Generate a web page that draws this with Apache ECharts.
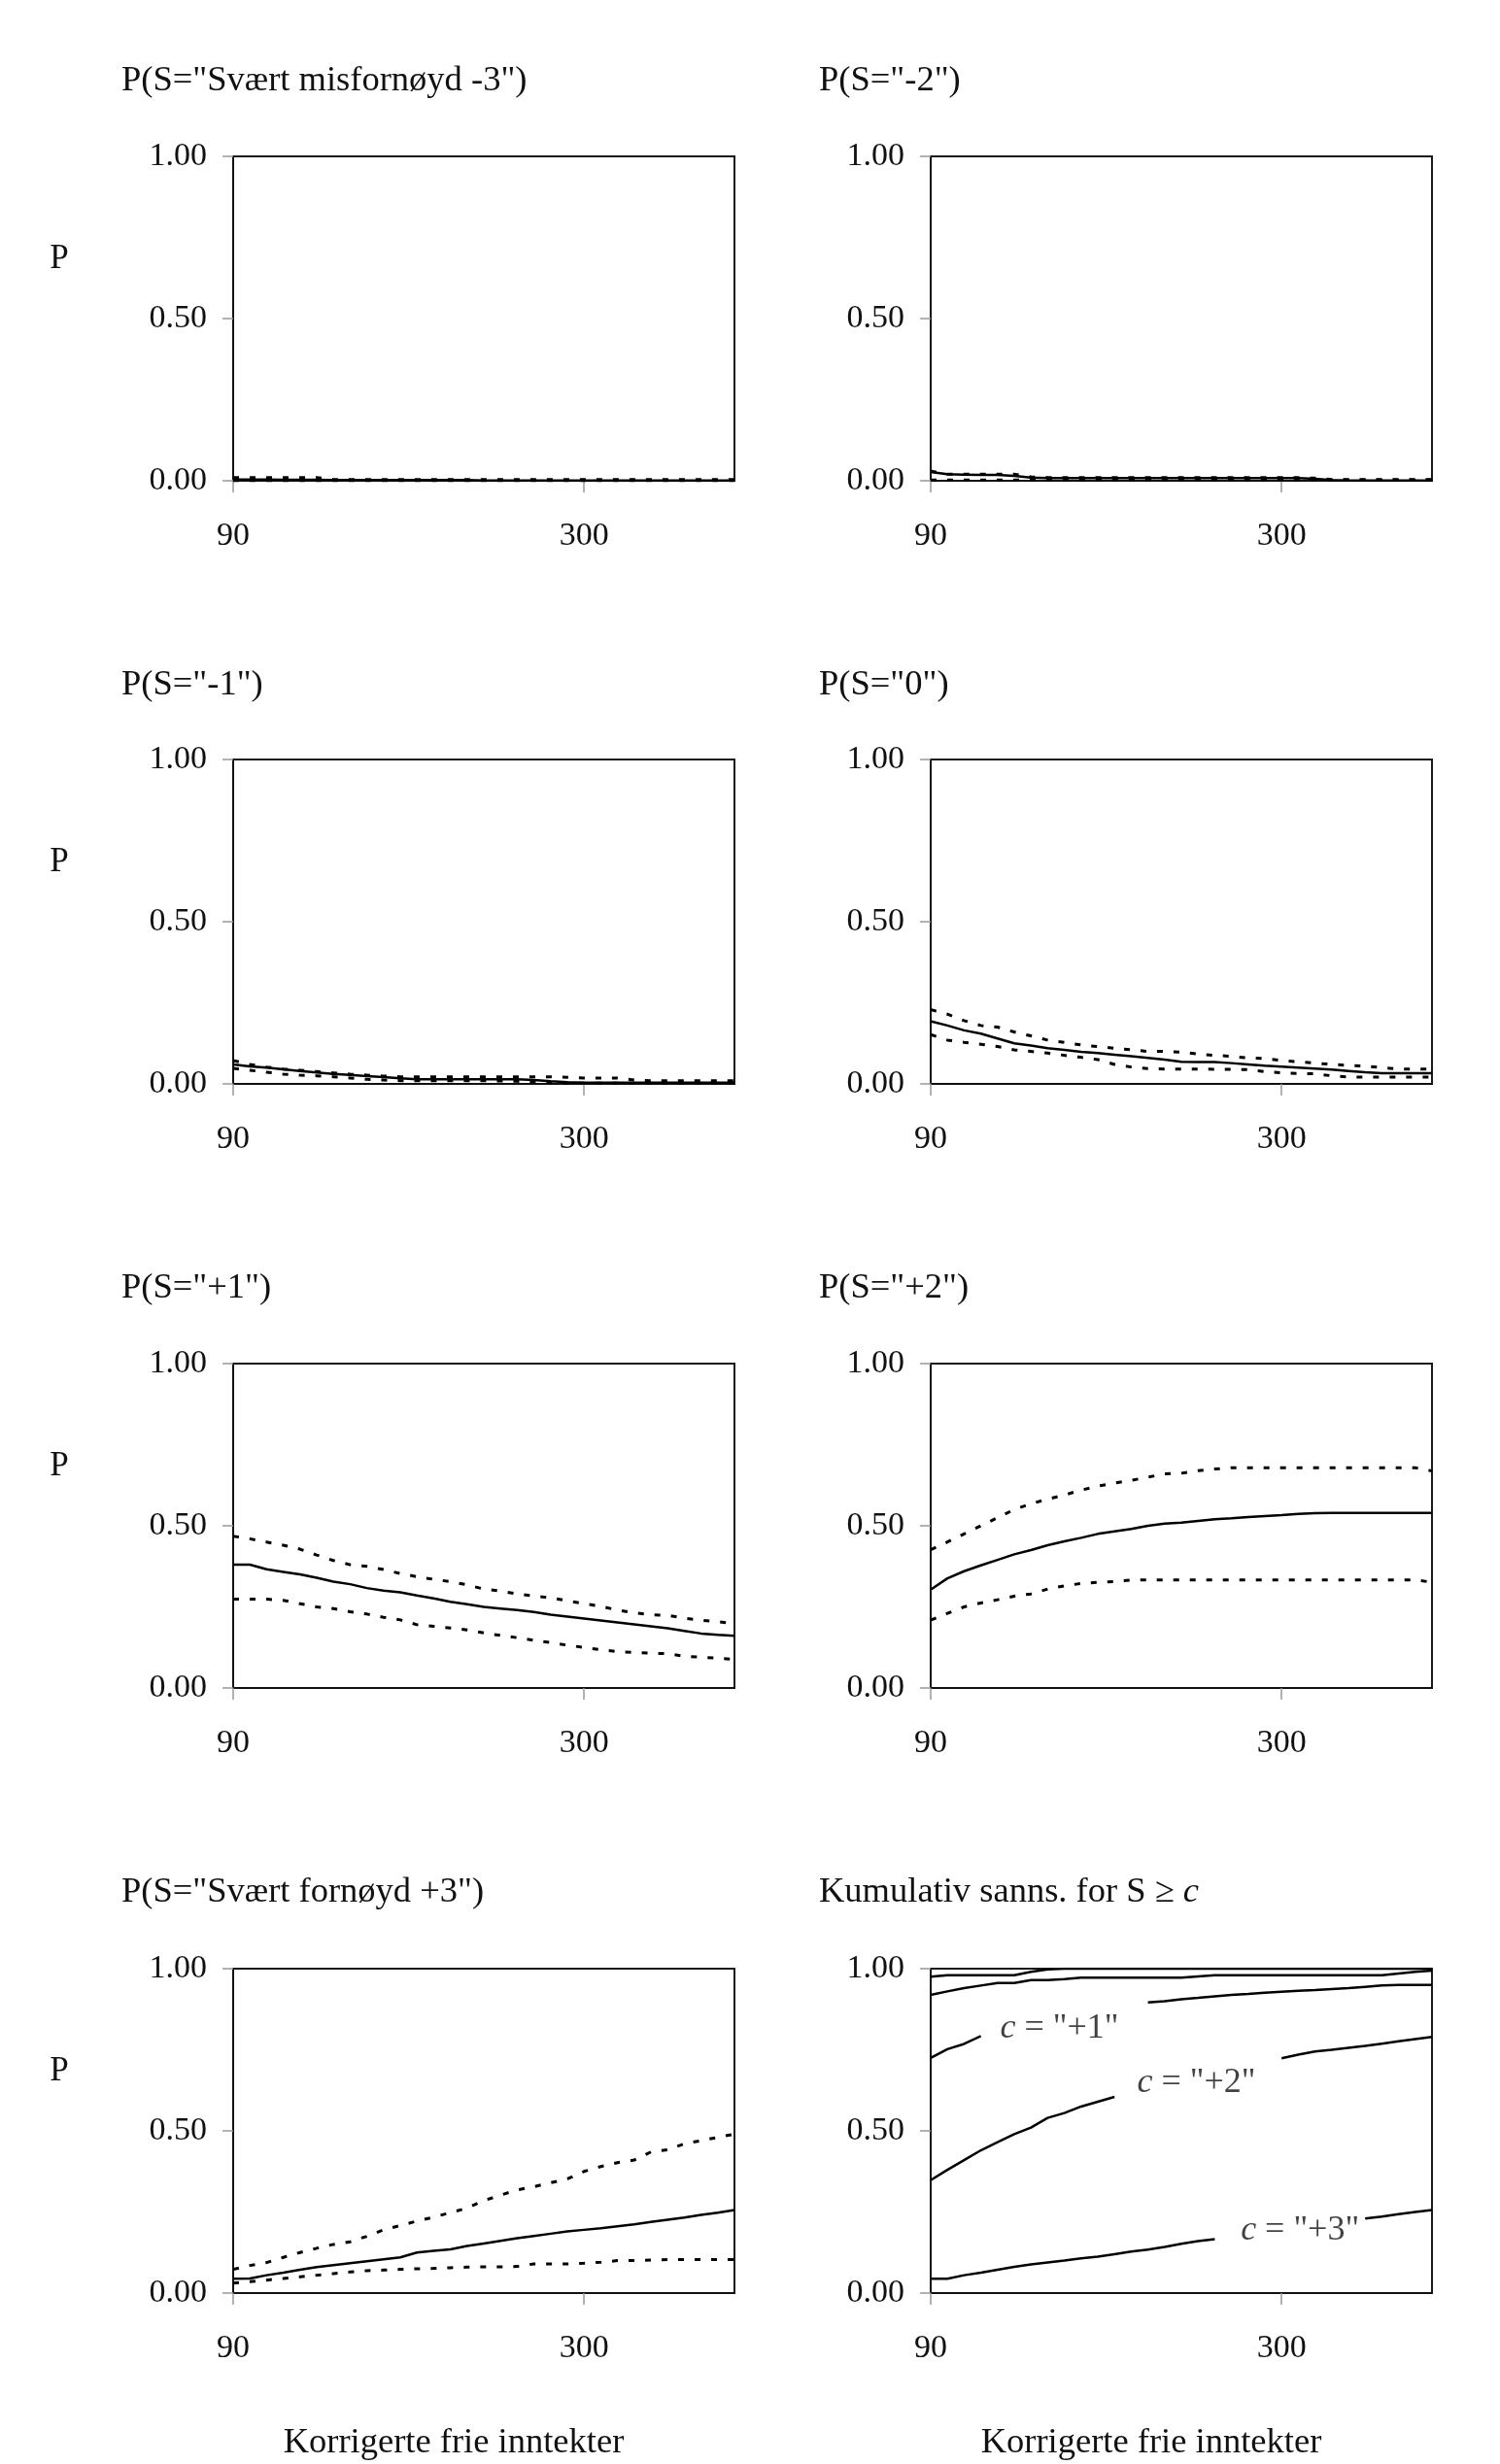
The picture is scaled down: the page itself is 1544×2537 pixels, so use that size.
<!DOCTYPE html>
<html><head><meta charset="utf-8">
<script src="https://cdn.jsdelivr.net/npm/echarts@6/dist/echarts.min.js"></script>
<style>html,body{margin:0;padding:0;background:#fff}#c{width:1544px;height:2537px}</style>
</head><body><div id="c"></div><script>
// ---------- data ----------
const incomes = [90,100,110,120,130,140,150,160,170,180,190,200,210,220,230,240,250,260,270,280,290,300,310,320,330,340,350,360,370,380,390];
const xTickValues = [90, 300];
const yTickValues = [0, 0.5, 1];
const panelTitles = ['P(S="Svært misfornøyd -3")', 'P(S="-2")', 'P(S="-1")', 'P(S="0")', 'P(S="+1")', 'P(S="+2")', 'P(S="Svært fornøyd +3")'];
const xAxisTitle = 'Korrigerte frie inntekter';
const yAxisTitle = 'P';

// P(S=-3)
const m3Est = [0.004,0.004,0.004,0.003,0.003,0.003,0.002,0.002,0.002,0.002,0.002,0.002,0.002,0.002,0.002,0.001,0.001,0.001,0.001,0.001,0.001,0.001,0.001,0.001,0.001,0.001,0.001,0.001,0.001,0.001,0.001];
const m3Hi  = [0.010,0.010,0.010,0.010,0.010,0.010,0.004,0.004,0.004,0.004,0.004,0.004,0.004,0.004,0.004,0.004,0.004,0.004,0.004,0.004,0.004,0.004,0.004,0.004,0.004,0.004,0.004,0.004,0.004,0.004,0.004];
const m3Lo  = [0,0,0,0,0,0,0,0,0,0,0,0,0,0,0,0,0,0,0,0,0,0,0,0,0,0,0,0,0,0,0];
// P(S=-2)
const m2Est = [0.027,0.020,0.019,0.018,0.018,0.015,0.010,0.008,0.008,0.008,0.008,0.008,0.008,0.008,0.008,0.008,0.008,0.008,0.008,0.008,0.008,0.008,0.008,0.006,0.002,0.001,0.001,0.001,0.001,0.001,0.001];
const m2Hi  = [0.030,0.020,0.020,0.020,0.020,0.020,0.012,0.010,0.010,0.010,0.010,0.010,0.010,0.010,0.010,0.010,0.010,0.010,0.010,0.010,0.010,0.010,0.010,0.008,0.004,0.004,0.004,0.004,0.004,0.004,0.004];
const m2Lo  = [0.002,0.002,0.002,0.002,0.002,0.002,0.002,0.002,0.002,0.002,0.002,0.002,0.002,0.002,0.002,0.002,0.002,0.002,0.002,0.002,0.002,0.002,0.002,0.002,0.002,0.002,0.002,0.002,0.002,0.002,0.002];
// P(S=-1)
const m1Est = [0.060,0.054,0.050,0.045,0.040,0.035,0.031,0.028,0.024,0.021,0.017,0.014,0.014,0.014,0.014,0.014,0.014,0.014,0.012,0.008,0.005,0.004,0.004,0.004,0.004,0.004,0.004,0.004,0.004,0.004,0.004];
const m1Hi  = [0.072,0.060,0.052,0.046,0.042,0.038,0.034,0.030,0.027,0.024,0.022,0.022,0.022,0.022,0.022,0.022,0.022,0.022,0.022,0.022,0.020,0.018,0.018,0.018,0.012,0.010,0.010,0.010,0.010,0.010,0.010];
const m1Lo  = [0.048,0.042,0.036,0.030,0.027,0.025,0.022,0.018,0.014,0.012,0.010,0.010,0.010,0.010,0.010,0.010,0.009,0.008,0.006,0.004,0.002,0.002,0.002,0.002,0.002,0.002,0.002,0.002,0.002,0.002,0.002];
// P(S=0)
const z0Est = [0.193,0.180,0.165,0.155,0.140,0.125,0.118,0.110,0.105,0.099,0.095,0.090,0.085,0.080,0.075,0.068,0.067,0.067,0.064,0.060,0.056,0.053,0.050,0.047,0.044,0.040,0.036,0.033,0.033,0.033,0.033];
const z0Hi  = [0.229,0.215,0.195,0.180,0.175,0.160,0.148,0.135,0.128,0.120,0.115,0.110,0.105,0.100,0.100,0.098,0.092,0.088,0.085,0.080,0.078,0.072,0.068,0.064,0.060,0.057,0.055,0.050,0.046,0.046,0.046];
const z0Lo  = [0.152,0.135,0.128,0.122,0.115,0.105,0.100,0.095,0.088,0.082,0.075,0.060,0.052,0.047,0.046,0.046,0.046,0.045,0.045,0.044,0.038,0.034,0.032,0.031,0.025,0.021,0.021,0.021,0.021,0.021,0.021];
// P(S=+1)
const p1Est = [0.380,0.380,0.366,0.358,0.350,0.340,0.328,0.320,0.308,0.300,0.295,0.285,0.276,0.266,0.258,0.250,0.245,0.240,0.234,0.226,0.220,0.214,0.208,0.202,0.196,0.190,0.184,0.176,0.168,0.164,0.161];
const p1Hi  = [0.468,0.460,0.450,0.440,0.428,0.410,0.393,0.380,0.375,0.365,0.353,0.343,0.335,0.328,0.318,0.305,0.299,0.290,0.284,0.278,0.269,0.260,0.252,0.240,0.232,0.226,0.224,0.215,0.209,0.204,0.199];
const p1Lo  = [0.274,0.274,0.274,0.270,0.260,0.250,0.245,0.235,0.228,0.218,0.210,0.195,0.190,0.185,0.179,0.170,0.162,0.155,0.147,0.140,0.132,0.125,0.118,0.112,0.110,0.107,0.106,0.098,0.095,0.092,0.088];
// P(S=+2)
const p2Est = [0.303,0.338,0.360,0.378,0.395,0.412,0.425,0.440,0.452,0.463,0.475,0.483,0.490,0.500,0.507,0.510,0.515,0.520,0.523,0.527,0.530,0.533,0.537,0.539,0.540,0.540,0.540,0.540,0.540,0.540,0.540];
const p2Hi  = [0.426,0.450,0.475,0.500,0.525,0.550,0.568,0.582,0.595,0.610,0.622,0.632,0.640,0.650,0.660,0.662,0.670,0.675,0.679,0.679,0.679,0.679,0.679,0.679,0.679,0.679,0.679,0.679,0.679,0.679,0.669];
const p2Lo  = [0.209,0.230,0.250,0.262,0.272,0.283,0.290,0.305,0.315,0.322,0.326,0.328,0.333,0.333,0.333,0.333,0.333,0.333,0.333,0.333,0.333,0.333,0.333,0.333,0.333,0.333,0.333,0.333,0.333,0.333,0.326];
// P(S=+3)
const p3Est = [0.044,0.045,0.055,0.063,0.072,0.080,0.086,0.092,0.098,0.104,0.110,0.125,0.130,0.135,0.145,0.153,0.161,0.169,0.176,0.183,0.190,0.195,0.200,0.206,0.212,0.219,0.226,0.233,0.241,0.248,0.256];
const p3Hi  = [0.073,0.085,0.094,0.110,0.125,0.138,0.150,0.158,0.175,0.195,0.208,0.222,0.234,0.248,0.262,0.285,0.302,0.318,0.328,0.340,0.352,0.375,0.390,0.402,0.410,0.435,0.442,0.460,0.470,0.480,0.490];
const p3Lo  = [0.031,0.035,0.040,0.045,0.050,0.055,0.060,0.065,0.069,0.071,0.073,0.075,0.076,0.078,0.080,0.081,0.081,0.082,0.090,0.090,0.090,0.092,0.095,0.100,0.100,0.102,0.103,0.103,0.103,0.103,0.103];
// Cumulative P(S >= c); null = line hidden behind label
const cumGeM1 = [0.975,0.980,0.980,0.980,0.980,0.980,0.990,0.998,1,1,1,1,1,1,1,1,1,1,1,1,1,1,1,1,1,1,1,1,1,1,1];
const cumGe0  = [0.919,0.930,0.940,0.948,0.956,0.956,0.965,0.965,0.968,0.972,0.972,0.972,0.972,0.972,0.972,0.972,0.976,0.980,0.980,0.980,0.980,0.980,0.980,0.980,0.980,0.980,0.980,0.980,0.985,0.990,0.994];
const cumGeP1 = [0.725,0.752,0.768,0.792,null,null,null,null,null,null,null,null,null,0.896,0.900,0.906,0.910,0.915,0.919,0.922,0.926,0.929,0.932,0.934,0.937,0.940,0.944,0.948,0.950,0.950,0.950];
const cumGeP2 = [0.348,0.380,0.410,0.440,0.465,0.490,0.510,0.540,0.555,0.575,0.590,0.605,null,null,null,null,null,null,null,null,null,0.724,0.735,0.745,0.750,0.756,0.762,0.769,0.776,0.783,0.790];
const cumGeP3 = [0.044,0.044,0.055,0.063,0.072,0.081,0.088,0.094,0.100,0.107,0.112,0.120,0.128,0.134,0.142,0.152,0.160,0.166,null,null,null,null,null,null,null,null,0.230,0.236,0.243,0.250,0.256];
const cumLabelText = ['"+1"', '"+2"', '"+3"'];
const cumLabelX = [167, 249, 311];
const cumLabelY = [0.815, 0.648, 0.194];
const cumTitle = 'Kumulativ sanns. for S ≥ ';

// ---------- layout ----------
const FONT = 'Liberation Serif';
const colLeft = [240, 958];
const rowTop = [161, 782, 1404, 2027];
const PW = 516, PH = 334;
const panels = [
  {est: m3Est, hi: m3Hi, lo: m3Lo},
  {est: m2Est, hi: m2Hi, lo: m2Lo},
  {est: m1Est, hi: m1Hi, lo: m1Lo},
  {est: z0Est, hi: z0Hi, lo: z0Lo},
  {est: p1Est, hi: p1Hi, lo: p1Lo},
  {est: p2Est, hi: p2Hi, lo: p2Lo},
  {est: p3Est, hi: p3Hi, lo: p3Lo},
  {cum: [cumGeM1, cumGe0, cumGeP1, cumGeP2, cumGeP3]}
];
const pairs = arr => incomes.map((x, i) => [x, arr[i]]);

const grids = [], xAxes = [], yAxes = [], series = [], graphics = [];
panels.forEach((p, k) => {
  const col = k % 2, row = Math.floor(k / 2);
  grids.push({left: colLeft[col], top: rowTop[row], width: PW, height: PH, show: true,
    borderColor: '#1a1a1a', borderWidth: 2, backgroundColor: '#fff'});
  xAxes.push({type: 'value', gridIndex: k, min: incomes[0], max: incomes[incomes.length - 1],
    splitLine: {show: false},
    axisLine: {show: true, onZero: false, lineStyle: {color: '#111', width: 2}},
    axisTick: {show: true, length: 12, customValues: xTickValues, lineStyle: {color: '#999', width: 1.5}},
    axisLabel: {customValues: xTickValues, margin: 40, fontFamily: FONT, fontSize: 34, color: '#111'}});
  yAxes.push({type: 'value', gridIndex: k, min: 0, max: 1, interval: 0.5,
    splitLine: {show: false},
    axisLine: {show: true, lineStyle: {color: '#111', width: 2}},
    axisTick: {show: true, length: 11, lineStyle: {color: '#999', width: 1.5}},
    axisLabel: {margin: 27, fontFamily: FONT, fontSize: 34, color: '#111', formatter: v => v.toFixed(2)}});
  const base = {type: 'line', xAxisIndex: k, yAxisIndex: k, symbol: 'none', showSymbol: false,
    animation: false, silent: true, connectNulls: false};
  if (p.cum) {
    p.cum.forEach(arr => series.push(Object.assign({}, base,
      {data: pairs(arr), lineStyle: {color: '#000', width: 2.5}})));
    series.push({type: 'scatter', xAxisIndex: k, yAxisIndex: k, symbolSize: 0, animation: false, silent: true,
      data: cumLabelText.map((t, i) => ({value: [cumLabelX[i], cumLabelY[i]], name: t})),
      label: {show: true, position: 'inside', formatter: d => '{i|c} = ' + d.name,
        fontFamily: FONT, fontSize: 36, color: '#111',
        rich: {i: {fontFamily: FONT, fontSize: 36, fontStyle: 'italic', color: '#111'}}}});
  } else {
    series.push(Object.assign({}, base, {data: pairs(p.hi), lineStyle: {color: '#000', width: 3, type: [6, 11], cap: 'butt'}}));
    series.push(Object.assign({}, base, {data: pairs(p.lo), lineStyle: {color: '#000', width: 3, type: [6, 11], cap: 'butt'}}));
    series.push(Object.assign({}, base, {data: pairs(p.est), lineStyle: {color: '#000', width: 2.5}}));
  }
});

// texts
const titleY = [83, 705, 1326, 1948];
const titleX = [125, 843];
panelTitles.forEach((t, k) => {
  const col = k % 2, row = Math.floor(k / 2);
  graphics.push({type: 'text', x: titleX[col], y: titleY[row],
    style: {text: t, font: '36.5px "' + FONT + '"', fill: '#111', align: 'left', verticalAlign: 'middle'}});
});
graphics.push({type: 'text', x: titleX[1], y: titleY[3],
  style: {text: '{a|' + cumTitle + '}{i|c}', fill: '#111', align: 'left', verticalAlign: 'middle',
    rich: {a: {fontFamily: FONT, fontSize: 36.5, fill: '#111'}, i: {fontFamily: FONT, fontSize: 36.5, fontStyle: 'italic', fill: '#111'}}}});
rowTop.forEach(t => graphics.push({type: 'text', x: 61, y: t + 106,
  style: {text: yAxisTitle, font: '35px "' + FONT + '"', fill: '#111', align: 'center', verticalAlign: 'middle'}}));
[467, 1185].forEach(x => graphics.push({type: 'text', x: x, y: 2515,
  style: {text: xAxisTitle, font: '36.5px "' + FONT + '"', fill: '#111', align: 'center', verticalAlign: 'middle'}}));

const chart = echarts.init(document.getElementById('c'), null, {renderer: 'canvas', width: 1544, height: 2537});
chart.setOption({backgroundColor: '#fff', animation: false, grid: grids, xAxis: xAxes, yAxis: yAxes, series: series, graphic: graphics});
</script></body></html>
